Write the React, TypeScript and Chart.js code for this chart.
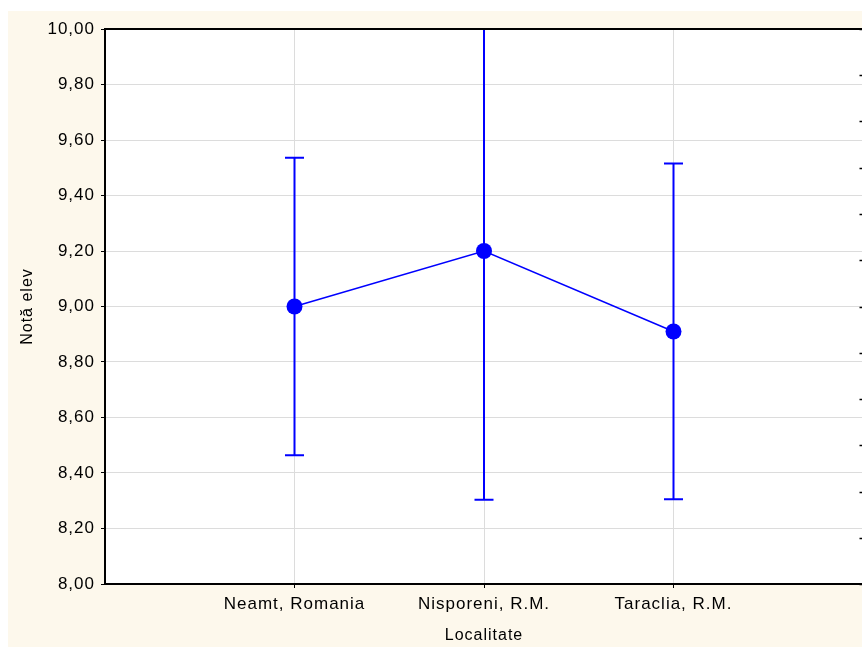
import React, { useEffect, useRef } from "react";
import { Chart, registerables } from "chart.js";

Chart.register(...registerables);

// Mean student grade by locality, with error bars (mean ± half-width)
const categories = ["Neamt, Romania", "Nisporeni, R.M.", "Taraclia, R.M."];
const means = [9.0, 9.2, 8.91];
const errors = [0.536, 0.896, 0.605];
const yTicks = [8.0, 8.2, 8.4, 8.6, 8.8, 9.0, 9.2, 9.4, 9.6, 9.8, 10.0];

const BLUE = "#0000ff";
const GRID = "#dcdcdc";
const CREAM = "#fdf8ec";
const FONT = "'Liberation Sans', Arial, sans-serif";

// slightly wider text spacing for all labels
const spacing = {
  id: "spacing",
  beforeLayout(chart: any) {
    chart.ctx.letterSpacing = "1px";
  },
  beforeDraw(chart: any) {
    chart.ctx.letterSpacing = "1px";
  },
};

const errorBars = {
  id: "errorBars",
  afterDatasetsDraw(chart: any) {
    const { ctx, chartArea, scales } = chart;
    const xs = scales.x;
    const ys = scales.y;
    ctx.save();
    ctx.beginPath();
    ctx.rect(chartArea.left, chartArea.top, chartArea.right - chartArea.left, chartArea.bottom - chartArea.top);
    ctx.clip();
    ctx.strokeStyle = BLUE;
    ctx.lineWidth = 2;
    means.forEach((m, i) => {
      const x = xs.getPixelForValue(i + 1);
      const yHi = ys.getPixelForValue(m + errors[i]);
      const yLo = ys.getPixelForValue(m - errors[i]);
      const cap = 9.5;
      ctx.beginPath();
      ctx.moveTo(x, yHi);
      ctx.lineTo(x, yLo);
      ctx.moveTo(x - cap, yHi);
      ctx.lineTo(x + cap, yHi);
      ctx.moveTo(x - cap, yLo);
      ctx.lineTo(x + cap, yLo);
      ctx.stroke();
    });
    ctx.restore();
  },
};

const frame = {
  id: "frame",
  afterDraw(chart: any) {
    const { ctx, chartArea, scales } = chart;
    ctx.save();
    ctx.strokeStyle = "#000";
    ctx.lineWidth = 2;
    ctx.strokeRect(chartArea.left, chartArea.top, chartArea.right - chartArea.left, chartArea.bottom - chartArea.top);
    // inward tick marks of the right-hand axis
    ctx.lineWidth = 1.5;
    const y2 = scales.y2;
    y2.ticks.forEach((t: any) => {
      const y = Math.round(y2.getPixelForValue(t.value)) + 0.5;
      ctx.beginPath();
      ctx.moveTo(chartArea.right - 3.5, y);
      ctx.lineTo(chartArea.right, y);
      ctx.stroke();
    });
    ctx.restore();
  },
};

const bgPlot = {
  id: "bgPlot",
  beforeDraw(chart: any) {
    const { ctx, chartArea, width, height } = chart;
    ctx.save();
    ctx.fillStyle = CREAM;
    ctx.fillRect(0, 0, width, height);
    ctx.fillStyle = "#ffffff";
    ctx.fillRect(chartArea.left, chartArea.top, chartArea.right - chartArea.left, chartArea.bottom - chartArea.top);
    ctx.restore();
  },
};

function App() {
  const ref = useRef<HTMLCanvasElement>(null);

  useEffect(() => {
    if (!ref.current) return;
    const chart = new Chart(ref.current, {
      type: "line",
      data: {
        datasets: [
          {
            data: means.map((m, i) => ({ x: i + 1, y: m })),
            borderColor: BLUE,
            backgroundColor: BLUE,
            borderWidth: 1.5,
            pointRadius: 8,
            pointBackgroundColor: BLUE,
            pointBorderColor: BLUE,
            pointBorderWidth: 0,
            tension: 0,
          },
        ],
      },
      options: {
        responsive: false,
        animation: false,
        events: [],
        layout: { padding: { left: 6, top: 18, right: 0, bottom: 0 } },
        plugins: { legend: { display: false }, tooltip: { enabled: false } },
        scales: {
          x: {
            type: "linear",
            min: 0,
            max: 4,
            afterBuildTicks: (s: any) => {
              s.ticks = categories.map((_, i) => ({ value: i + 1 }));
            },
            afterFit: (s: any) => {
              s.height = 63;
            },
            ticks: {
              callback: (v: any) => categories[Number(v) - 1] ?? "",
              color: "#000",
              font: { family: FONT, size: 17 },
              padding: 6,
              maxRotation: 0,
              autoSkip: false,
            },
            grid: { color: GRID, tickColor: "#000", tickLength: 4, lineWidth: 1 },
            border: { display: false },
            title: {
              display: true,
              text: "Localitate",
              color: "#000",
              font: { family: FONT, size: 16 },
              padding: { top: 0, bottom: 2 },
            },
          },
          y: {
            type: "linear",
            min: 8,
            max: 10,
            afterBuildTicks: (s: any) => {
              s.ticks = yTicks.map((v) => ({ value: v }));
            },
            afterFit: (s: any) => {
              s.width = 91;
            },
            ticks: {
              callback: (v: any) => Number(v).toFixed(2).replace(".", ","),
              color: "#000",
              font: { family: FONT, size: 17 },
              padding: 6,
            },
            grid: { color: GRID, tickColor: "#000", tickLength: 4, lineWidth: 1 },
            border: { display: false },
            title: {
              display: true,
              text: "Notă elev",
              color: "#000",
              font: { family: FONT, size: 16 },
              padding: { top: 4, bottom: 4 },
            },
          },
          y2: {
            type: "linear",
            position: "right",
            min: 0,
            max: 12,
            ticks: { display: false, stepSize: 1 },
            grid: { drawOnChartArea: false, drawTicks: false },
            border: { display: false },
            afterFit: (s: any) => {
              s.width = 45;
            },
          },
        },
      },
      plugins: [spacing, bgPlot, errorBars, frame],
    } as any);
    return () => chart.destroy();
  }, []);

  return (
    <div
      style={{
        position: "fixed",
        left: 8,
        top: 11,
        width: 854,
        height: 636,
        overflow: "hidden",
        background: CREAM,
      }}
    >
      <canvas ref={ref} width={900} height={636} style={{ display: "block" }} />
    </div>
  );
}

export default App;
